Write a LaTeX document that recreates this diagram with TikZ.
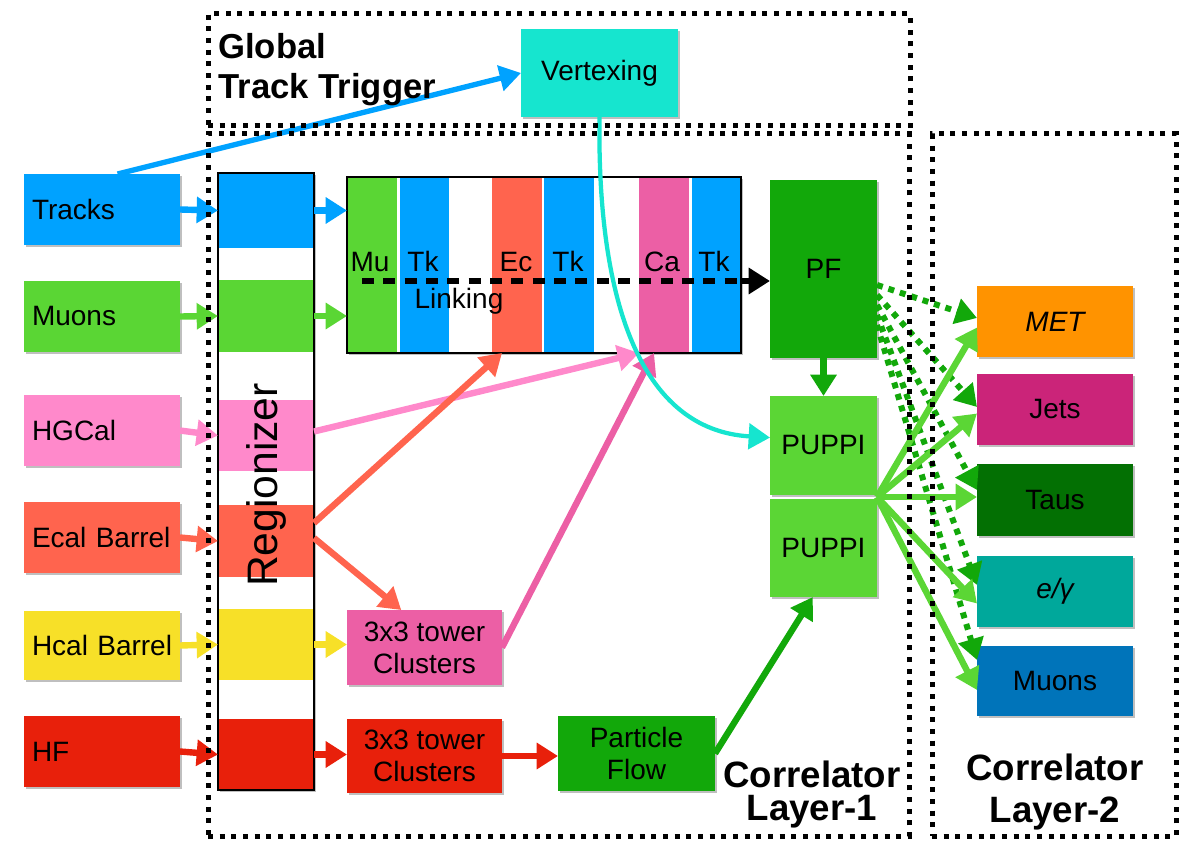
\documentclass[tikz,border=0pt]{standalone}
\usepackage{fontspec}
\setmainfont{Liberation Sans}
\usetikzlibrary{arrows.meta,calc,shadows}
\definecolor{cTrack}{HTML}{00A2FF}
\definecolor{cMuon}{HTML}{5AD634}
\definecolor{cHG}{HTML}{FF89CB}
\definecolor{cEcal}{HTML}{FF644E}
\definecolor{cHcal}{HTML}{F7E028}
\definecolor{cHF}{HTML}{E8200B}
\definecolor{cVtx}{HTML}{16E5CF}
\definecolor{cPF}{HTML}{12A80A}
\definecolor{cPuppi}{HTML}{5BD635}
\definecolor{cClus}{HTML}{EC5FA5}
\definecolor{cMET}{HTML}{FF9300}
\definecolor{cJets}{HTML}{CB2479}
\definecolor{cTaus}{HTML}{037003}
\definecolor{cEG}{HTML}{00A89B}
\definecolor{cMuOut}{HTML}{0074BA}
\tikzset{
  sz/.style 2 args={minimum width=#1*0.75pt, minimum height=#2*0.75pt},
  blk/.style={inner sep=0pt, outer sep=0pt, draw=none, align=center},
  shd/.style={drop shadow={shadow xshift=1.5pt,shadow yshift=-1.5pt,opacity=0.25,fill=black}},
  inbox/.style={blk, shd, sz={156}{71}, text width=105pt, align=left, inner xsep=6pt},
  outbox/.style={blk, shd, sz={156}{71}},
  stripe/.style={blk, sz={50}{176}},
  band/.style={blk, sz={96}{72}},
  frame/.style={draw=black, line width=3.75pt, dash pattern=on 3.75pt off 5pt, inner sep=0pt, outer sep=0pt},
  arr/.style={line width=4.8pt, -{Triangle[length=16pt,width=19pt]}},
  dots/.style={arr, line width=4.5pt, dash pattern=on 4.5pt off 4.5pt},
  bigtxt/.style={font=\fontsize{27.5}{30}\selectfont\bfseries, inner sep=0pt},
  gtxt/.style={font=\fontsize{26}{30}\selectfont\bfseries, inner sep=0pt, anchor=base west},
  lbl/.style={anchor=base, inner sep=0pt}
}
\begin{document}
\begin{tikzpicture}[x=0.75pt,y=-0.75pt,font=\fontsize{21}{24}\selectfont]
\useasboundingbox (0,0) rectangle (1189,841);

% input boxes
\node[inbox, fill=cTrack] (tracks) at (102,209.5) {Tracks};
\node[inbox, fill=cMuon] (muonsin) at (102,316.5) {Muons};
\node[inbox, fill=cHG] (hgcal) at (102,430.5) {HGCal};
\node[inbox, fill=cEcal] (ecal) at (102,537.5) {\mbox{Ecal Barrel}};
\node[inbox, fill=cHcal, sz={156}{69}] (hcal) at (102,645.5) {\mbox{Hcal Barrel}};
\node[inbox, fill=cHF] (hf) at (102,751.5) {HF};

% regionizer
\node[blk, fill=white, shd, sz={96}{617}] (reg) at (266,481.5) {};
\node[band, fill=cTrack, sz={96}{75}] (r1) at (266,210.5) {};
\node[band, fill=cMuon] (r2) at (266,316) {};
\node[band, fill=cHG, sz={96}{71}] (r3) at (266,435.5) {};
\node[band, fill=cEcal] (r4) at (266,541) {};
\node[band, fill=cHcal, sz={96}{71}] (r5) at (266,644.5) {};
\node[band, fill=cHF, sz={96}{71}] (r6) at (266,754.5) {};
\draw[line width=1.6pt] (reg.north west) rectangle (reg.south east);
\node[rotate=90, font=\fontsize{32}{36}\selectfont, inner sep=0pt] (regtxt) at (266,485) {Regionizer};

% linking box
\node[blk, fill=white, shd, sz={394}{176}] (linkbox) at (544,265) {};
\node[stripe, fill=cMuon] (mu) at (372,265) {};
\node[stripe, fill=cTrack, sz={49}{176}] (tk1) at (424.5,265) {};
\node[stripe, fill=cEcal] (ec) at (517,265) {};
\node[stripe, fill=cTrack] (tk2) at (569,265) {};
\node[stripe, fill=cClus] (ca) at (664,265) {};
\node[stripe, fill=cTrack, sz={48}{176}] (tk3) at (716,265) {};
\draw[line width=2pt] (linkbox.north west) rectangle (linkbox.south east);
\node[lbl] (lmu) at (370,272) {Mu};
\node[lbl] (ltk1) at (423,272) {Tk};
\node[lbl] (lec) at (516,272) {Ec};
\node[lbl] (ltk2) at (568,272) {Tk};
\node[lbl] (lca) at (662,272) {Ca};
\node[lbl] (ltk3) at (714,272) {Tk};
\node[lbl] (llink) at (459,309) {Linking};

% PF, PUPPI, vertexing
\node[blk, shd, fill=cPF, sz={107}{178}] (pf) at (823.5,269) {PF};
\node[blk, shd, fill=cPuppi, sz={107}{99}] (puppi1) at (823.5,445.5) {PUPPI};
\node[blk, shd, fill=cPuppi, sz={107}{98}] (puppi2) at (823.5,548) {PUPPI};
\node[blk, shd, fill=cVtx, sz={157}{88}] (vertexing) at (599.5,73) {Vertexing};

% clusters and particle flow
\node[blk, shd, fill=cClus, sz={155}{75}] (cl1) at (424.5,647.5) {3x3 tower\\Clusters};
\node[blk, shd, fill=cHF, sz={155}{74}] (cl2) at (424.5,756) {3x3 tower\\Clusters};
\node[blk, shd, fill=cPF, sz={157}{75}] (pflow) at (636.5,753.5) {Particle\\Flow};

% layer-2 outputs
\node[outbox, fill=cMET] (met) at (1055,321.5) {\itshape MET};
\node[outbox, fill=cJets] (jets) at (1055,409.5) {Jets};
\node[outbox, fill=cTaus, sz={156}{72}] (taus) at (1055,500) {Taus};
\node[outbox, fill=cEG] (eg) at (1055,591.5) {\itshape e/γ};
\node[outbox, fill=cMuOut, sz={156}{70}] (muonsout) at (1055,681) {Muons};

% linking dashed line
\coordinate (dstart) at (362,281);
\coordinate (dend) at (741,281);
\draw[line width=4pt, dash pattern=on 9pt off 7pt] (dstart) -- (dend);
\draw[arr, black] (dend) -- (dend -| pf.west);

% arrows left side
\draw[arr, cTrack, line width=4pt] ($(tracks.north west)!0.6!(tracks.north east)$) -- (vertexing.west);
\draw[arr, cTrack] (tracks.east) -- (r1.west);
\draw[arr, cTrack] (r1.east) -- (r1.east -| linkbox.west);
\draw[arr, cMuon] (muonsin.east) -- (r2.west);
\draw[arr, cMuon] (r2.east) -- (r2.east -| linkbox.west);
\draw[arr, cHG] (hgcal.east) -- (r3.west);
\draw[arr, cHG] ($(r3.east)+(0,-4)$) -- (ca.south west);
\draw[arr, cEcal] (ecal.east) -- (r4.west);
\draw[arr, cEcal] ($(r4.north east)!0.25!(r4.south east)$) -- ($(ec.south west)!0.2!(ec.south east)$);
\draw[arr, cEcal] ($(r4.east)+(0,-3)$) -- ($(cl1.north west)!0.35!(cl1.north east)$);
\draw[arr, cHcal] (hcal.east) -- (r5.west);
\draw[arr, cHcal] (r5.east) -- (r5.east -| cl1.west);
\draw[arr, cClus] (cl1.east) -- ($(ca.south west)!0.3!(ca.south east)$);
\draw[arr, cHF] (hf.east) -- (r6.west);
\draw[arr, cHF] (r6.east) -- (r6.east -| cl2.west);
\draw[arr, cHF] (cl2.east) -- (cl2.east -| pflow.west);
\draw[arr, cPF] (pflow.east) -- ($(puppi2.south west)!0.4!(puppi2.south east)$);
\draw[arr, cPF] (pf.south) -- (puppi1.north);
\draw[arr, cVtx, line width=3.2pt] (vertexing.south) .. controls (597,300) and (640,430) .. ($(puppi1.north west)!0.42!(puppi1.south west)$);

% arrows right side
\foreach \t/\s/\o in {met/285/-3.5, jets/295/-2.5, taus/305/-10, eg/315/-6.5, muonsout/325/-21}
  \draw[dots, cPF] ($(pf.north east)+(0,{\s-180})$) -- ($(\t.west)+(0,\o)$);
\coordinate (jn) at ($(puppi1.south east)!0.5!(puppi2.north east)$);
\foreach \t/\o in {met/6, jets/4, taus/-3, eg/12, muonsout/9}
  \draw[arr, cPuppi] (jn) -- ($(\t.west)+(0,\o)$);

% frames
\node[frame, sz={702}{112}] (gttframe) at (559,70) {};
\node[frame, sz={701}{702}] (cl1frame) at (558.5,485) {};
\node[frame, sz={244}{702}] (cl2frame) at (1054,485) {};

% titles
\node[gtxt] (gtt1) at (218,59) {Global};
\node[gtxt] (gtt2) at (218,99) {Track Trigger};
\node[bigtxt, anchor=base] (l1a) at (812,787) {Correlator};
\node[bigtxt, anchor=base] (l1b) at (812,820) {Layer-1};
\node[bigtxt, anchor=base] (l2a) at (1055,780) {Correlator};
\node[bigtxt, anchor=base] (l2b) at (1055,822) {Layer-2};
\end{tikzpicture}
\end{document}
